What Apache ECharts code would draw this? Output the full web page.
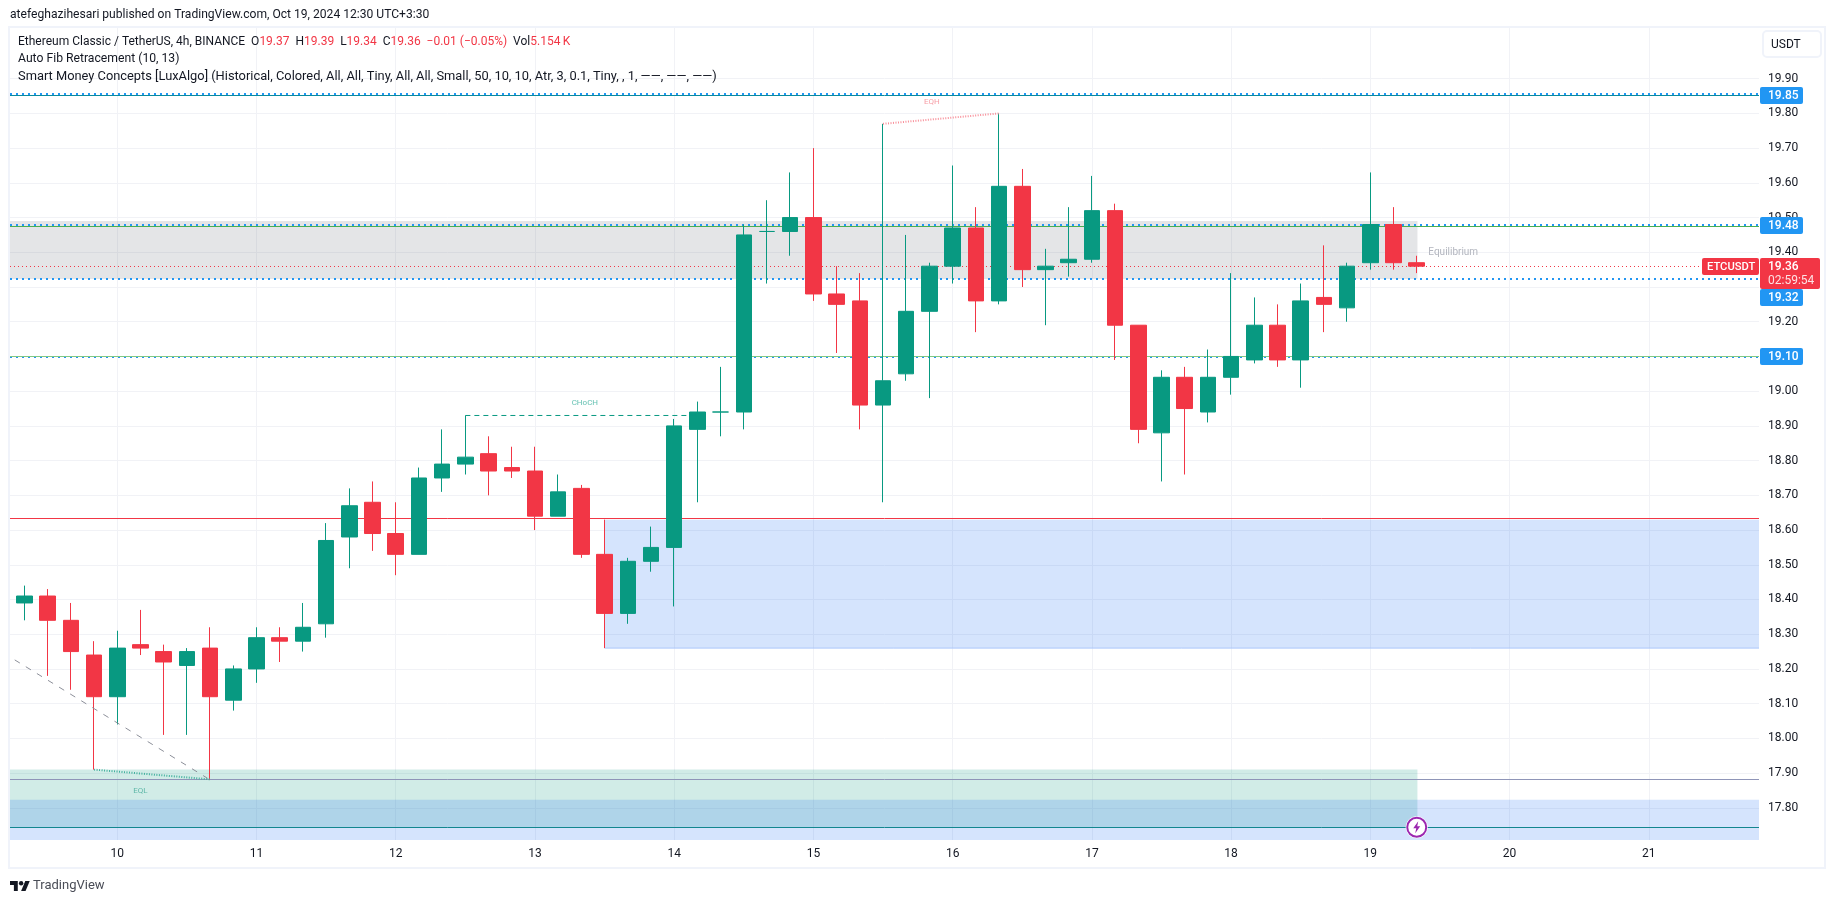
<!DOCTYPE html>
<html><head><meta charset="utf-8">
<style>html,body{margin:0;padding:0;background:#fff}#c{width:1835px;height:903px}</style>
<script src="https://cdn.jsdelivr.net/npm/echarts@6/dist/echarts.min.js"></script>
</head><body><div id="c"></div>
<script>
// Candles: index 0 is the first 4h bar of day 10; six bars per day
const firstBar = -4;
const opens  = [18.39,18.41,18.34,18.24,18.12,18.27,18.25,18.21,18.26,18.11,18.20,18.29,18.28,18.33,18.58,18.68,18.59,18.53,18.75,18.79,18.82,18.78,18.77,18.64,18.72,18.53,18.36,18.51,18.55,18.89,18.94,18.94,19.46,19.46,19.50,19.28,19.26,18.96,19.05,19.23,19.36,19.47,19.26,19.59,19.35,19.37,19.38,19.52,19.19,18.88,19.04,18.94,19.04,19.09,19.19,19.09,19.27,19.24,19.37,19.48,19.37];
const closes = [18.41,18.34,18.25,18.12,18.26,18.26,18.22,18.25,18.12,18.20,18.29,18.28,18.32,18.57,18.67,18.59,18.53,18.75,18.79,18.81,18.77,18.77,18.64,18.71,18.53,18.36,18.51,18.55,18.90,18.94,18.94,19.45,19.46,19.50,19.28,19.25,18.96,19.03,19.23,19.36,19.47,19.26,19.59,19.35,19.36,19.38,19.52,19.19,18.89,19.04,18.95,19.04,19.10,19.19,19.09,19.26,19.25,19.36,19.48,19.37,19.36];
const lows   = [18.34,18.18,18.14,17.91,18.04,18.24,18.01,18.01,17.88,18.08,18.16,18.22,18.25,18.29,18.49,18.54,18.47,18.53,18.71,18.76,18.70,18.75,18.60,18.64,18.52,18.26,18.33,18.48,18.38,18.68,18.87,18.89,19.31,19.39,19.26,19.11,18.89,18.68,19.03,18.98,19.31,19.17,19.25,19.30,19.19,19.33,19.37,19.09,18.85,18.74,18.76,18.91,18.99,19.08,19.07,19.01,19.17,19.20,19.35,19.35,19.34];
const highs  = [18.44,18.43,18.39,18.28,18.31,18.37,18.27,18.26,18.32,18.21,18.32,18.32,18.39,18.62,18.72,18.74,18.68,18.78,18.89,18.93,18.87,18.84,18.84,18.76,18.73,18.63,18.52,18.61,18.92,18.97,19.07,19.48,19.55,19.63,19.70,19.36,19.34,19.77,19.45,19.37,19.65,19.53,19.80,19.64,19.41,19.53,19.62,19.54,19.19,19.06,19.07,19.12,19.34,19.27,19.25,19.31,19.42,19.37,19.63,19.53,19.39];

// Axis ticks
const dayLabels = ['10','11','12','13','14','15','16','17','18','19','20','21'];
const dayTicks = [0,6,12,18,24,30,36,42,48,54,60,66];
const priceTicks = [17.8,17.9,18.0,18.1,18.2,18.3,18.4,18.5,18.6,18.7,18.8,18.9,19.0,19.1,19.2,19.3,19.4,19.5,19.6,19.7,19.8,19.9];

// View range
const xMin = -4.624, xMax = 70.75, yMin = 17.7073, yMax = 20.046;
const lastBar = 56;

// Zones: [x0, x1, priceTop, priceBottom, fill, bottom edge colour]
const zones = [
  [xMin, lastBar+0.03, 19.49, 19.323, 'rgba(120,123,134,0.2)', null],
  [21, xMax, 18.63, 18.26, 'rgba(33,110,245,0.19)', '#aac6fb'],
  [xMin, lastBar+0.03, 17.91, 17.745, 'rgba(8,153,129,0.19)', null],
  [xMin, xMax, 17.823, yMin, 'rgba(33,110,245,0.19)', null]
];
// Horizontal levels: [price, colour, width, dash]
const levels = [
  [19.36, '#F23645', 1, [1,3]],
  [19.856, '#2196F3', 2, [2,4]],
  [19.853, '#0a8a9e', 1, null],
  [19.479, '#2196F3', 2, [2,4]],
  [19.475, '#4CAF50', 1, null],
  [19.323, '#2196F3', 2, [2,4]],
  [19.098, '#2196F3', 2, [2,4]],
  [19.10, '#81C784', 1, null],
  [18.634, '#F23645', 1, null],
  [17.882, '#8f95b8', 1, null],
  [17.744, '#12868f', 1, null]
];
// Structure lines: [x0, price0, x1, price1, colour, width, dash]
const structure = [
  [-4.42, 18.226, 3.89, 17.885, '#8c8f99', 1, [6,7]],
  [-1, 17.91, 4, 17.882, '#40b09d', 2, [1,1.5]],
  [33, 19.77, 38, 19.80, '#f88f99', 2, [1,1.5]],
  [15, 18.93, 25, 18.93, '#089981', 1, [5,4]]
];
// Small texts inside the pane: [text, x, price, colour, size]
const notes = [
  ['EQL', 1.0, 17.847, '#5fb8a8', 8],
  ['EQH', 35.1, 19.832, '#f7a0a8', 8],
  ['CHoCH', 20.15, 18.967, '#66c2b3', 8],
  ['Equilibrium', 56.5, 19.40, '#b2b5be', 10]
];
// Right-axis price tags: [text, price, nudge]
const tags = [['19.85',19.853,0],['19.48',19.478,0],['19.32',19.323,18],['19.10',19.10,0]];
const lastPrice = 19.36;

const candleData = opens.map((o,i)=>[firstBar+i, o, closes[i], lows[i], highs[i]]);
const UP='#089981', DOWN='#F23645', F='Roboto, sans-serif';

const structureSeries = structure.map(s=>({
  type:'line', z:6, silent:true, showSymbol:false, animation:false,
  data:[[s[0],s[1]],[s[2],s[3]]],
  lineStyle:{color:s[4],width:s[5],type:s[6]||'solid'}
}));
const logoX = q=>10+q[0]*0.5556, logoY = q=>881+(q[1]-4)*0.5556;
const logoPts = a=>a.map(q=>[logoX(q),logoY(q)]);

const option = {
  animation:false,
  grid:{left:10,top:28,width:1749,height:812,containLabel:false},
  xAxis:{type:'value',min:xMin,max:xMax,
    axisLine:{show:false},
    axisTick:{show:false,customValues:dayTicks},
    axisLabel:{customValues:dayTicks,color:'#131722',fontFamily:F,fontSize:12,margin:8,
      showMinLabel:true,showMaxLabel:true,
      formatter:v=>dayLabels[dayTicks.indexOf(v)]},
    splitLine:{show:true,lineStyle:{color:'#f1f2f6',width:1}}},
  yAxis:{type:'value',position:'right',min:yMin,max:yMax,
    axisLine:{show:false},
    axisTick:{show:false,customValues:priceTicks},
    axisLabel:{customValues:priceTicks,color:'#131722',fontFamily:F,fontSize:12,margin:9,padding:[2,0,0,0],
      formatter:v=>v.toFixed(2)},
    splitLine:{show:true,lineStyle:{color:'#f1f2f6',width:1}}},
  series:[
    {type:'custom',z:2,silent:true,clip:true,animation:false,data:zones,
      renderItem(p,api){
        const z=zones[p.dataIndex];
        const a=api.coord([z[0],z[2]]), b=api.coord([z[1],z[3]]);
        const kids=[{type:'rect',shape:{x:a[0],y:a[1],width:b[0]-a[0],height:b[1]-a[1]},style:{fill:z[4]}}];
        if(z[5])kids.push({type:'line',shape:{x1:a[0],y1:b[1],x2:b[0],y2:b[1]},style:{stroke:z[5],lineWidth:1}});
        return {type:'group',children:kids};
      }},
    {type:'custom',z:3,silent:true,clip:true,animation:false,data:levels,
      renderItem(p,api){
        const l=levels[p.dataIndex];
        const a=api.coord([xMin,l[0]]), b=api.coord([xMax,l[0]]);
        const y=l[2]%2?Math.floor(a[1])+0.5:Math.round(a[1]);
        return {type:'line',shape:{x1:a[0],y1:y,x2:b[0],y2:y},
          style:{stroke:l[1],lineWidth:l[2],lineDash:l[3]||null}};
      }},
    {type:'candlestick',z:5,silent:true,animation:false,barWidth:16,
      encode:{x:0,y:[1,2,3,4]},data:candleData,
      itemStyle:{color:UP,color0:DOWN,borderColor:UP,borderColor0:DOWN,borderColorDoji:UP,borderWidth:1}},
    ...structureSeries,
    {type:'custom',z:8,silent:true,clip:false,animation:false,data:notes,
      renderItem(p,api){
        const n=notes[p.dataIndex], c=api.coord([n[1],n[2]]);
        return {type:'text',style:{text:n[0],x:c[0],y:c[1],fill:n[3],fontFamily:F,fontSize:n[4],
          textAlign:n[0]==='Equilibrium'?'left':'center',textVerticalAlign:'middle'}};
      }},
    {type:'custom',z:9,silent:true,clip:false,animation:false,data:[[lastBar,17.744]],
      renderItem(p,api){
        const c=api.coord([lastBar,17.744]);
        const bolt=[[1.5,-6],[-3.5,1],[-0.5,1],[-1.5,6],[3.5,-1],[0.5,-1]].map(q=>[c[0]+q[0],c[1]+q[1]]);
        return {type:'group',children:[
          {type:'circle',shape:{cx:c[0],cy:c[1],r:11},style:{fill:'#fff'}},
          {type:'circle',shape:{cx:c[0],cy:c[1],r:9.5},style:{fill:'#fff',stroke:'#9c27b0',lineWidth:2}},
          {type:'polygon',shape:{points:bolt},style:{fill:'#9c27b0'}}
        ]};
      }},
    {type:'custom',z:10,silent:true,clip:false,animation:false,data:tags,
      renderItem(p,api){
        const t=tags[p.dataIndex], y=Math.round(api.coord([xMax,t[1]])[1])+t[2], x=1760;
        return {type:'group',children:[
          {type:'rect',shape:{x:x,y:y-8,width:43,height:17,r:2},style:{fill:'#2196F3'}},
          {type:'text',style:{text:t[0],x:x+8,y:y+1,fill:'#fff',fontFamily:F,fontSize:12,fontWeight:500,textVerticalAlign:'middle'}}
        ]};
      }},
    {type:'custom',z:11,silent:true,clip:false,animation:false,data:[[lastPrice]],
      renderItem(p,api){
        const y=Math.round(api.coord([xMax,lastPrice])[1]), x=1760;
        return {type:'group',children:[
          {type:'rect',shape:{x:1702,y:y-8,width:57,height:17,r:2},style:{fill:DOWN}},
          {type:'text',style:{text:'ETCUSDT',x:1707,y:y+1,fill:'#fff',fontFamily:F,fontSize:11.2,fontWeight:500,textVerticalAlign:'middle'}},
          {type:'rect',shape:{x:x,y:y-8,width:60,height:31,r:2},style:{fill:DOWN}},
          {type:'text',style:{text:'19.36',x:x+8,y:y+1,fill:'#fff',fontFamily:F,fontSize:12,fontWeight:500,textVerticalAlign:'middle'}},
          {type:'text',style:{text:'02:59:54',x:x+8,y:y+15,fill:'rgba(255,255,255,0.85)',fontFamily:F,fontSize:12,textVerticalAlign:'middle'}}
        ]};
      }}
  ],
  graphic:[
    {type:'rect',z:-1,silent:true,shape:{x:9,y:27,width:1816,height:841},style:{fill:'none',stroke:'#f0f3fa',lineWidth:2}},
    {type:'text',left:10,top:9,silent:true,style:{text:'atefeghazihesari published on TradingView.com, Oct 19, 2024 12:30 UTC+3:30',fill:'#131722',fontFamily:F,fontSize:12.1}},
    {type:'text',left:18,top:36,z:20,silent:true,style:{
      text:'{k|Ethereum Classic / TetherUS, 4h, BINANCE  O}{r|19.37}{k|  H}{r|19.39}{k|  L}{r|19.34}{k|  C}{r|19.36}{r|  \u22120.01 (\u22120.05%)}{k|  Vol}{r|5.154\u2009K}',
      rich:{k:{fill:'#131722',fontFamily:F,fontSize:12},r:{fill:DOWN,fontFamily:F,fontSize:12}}}},
    {type:'text',left:18,top:53,z:20,silent:true,style:{text:'Auto Fib Retracement (10, 13)',fill:'#131722',fontFamily:F,fontSize:12.2}},
    {type:'text',left:18,top:70,z:20,silent:true,style:{text:'Smart Money Concepts [LuxAlgo] (Historical, Colored, All, All, Tiny, All, All, Small, 50, 10, 10, Atr, 3, 0.1, Tiny, , 1, \u2014\u2014, \u2014\u2014, \u2014\u2014)',fill:'#131722',fontFamily:F,fontSize:12.85}},
    {type:'rect',z:20,silent:true,shape:{x:1763,y:31,width:58,height:26,r:4},style:{fill:'#fff',stroke:'#f0f3fa',lineWidth:2}},
    {type:'text',left:1771,top:39,z:21,silent:true,style:{text:'USDT',fill:'#131722',fontFamily:F,fontSize:12}},
    {type:'polygon',z:20,silent:true,shape:{points:logoPts([[0,4],[14,4],[14,22],[7,22],[7,11],[0,11]])},style:{fill:'#131722'}},
    {type:'polygon',z:20,silent:true,shape:{points:logoPts([[20,22],[27.5,4],[35.5,4],[28,22]])},style:{fill:'#131722'}},
    {type:'circle',z:20,silent:true,shape:{cx:logoX([20,8]),cy:logoY([20,8]),r:2.2},style:{fill:'#131722'}},
    {type:'text',left:33,top:879,z:20,silent:true,style:{text:'TradingView',fill:'#4a4d57',fontFamily:F,fontSize:13}}
  ]
};
echarts.init(document.getElementById('c'),null,{renderer:'canvas'}).setOption(option);
</script></body></html>
